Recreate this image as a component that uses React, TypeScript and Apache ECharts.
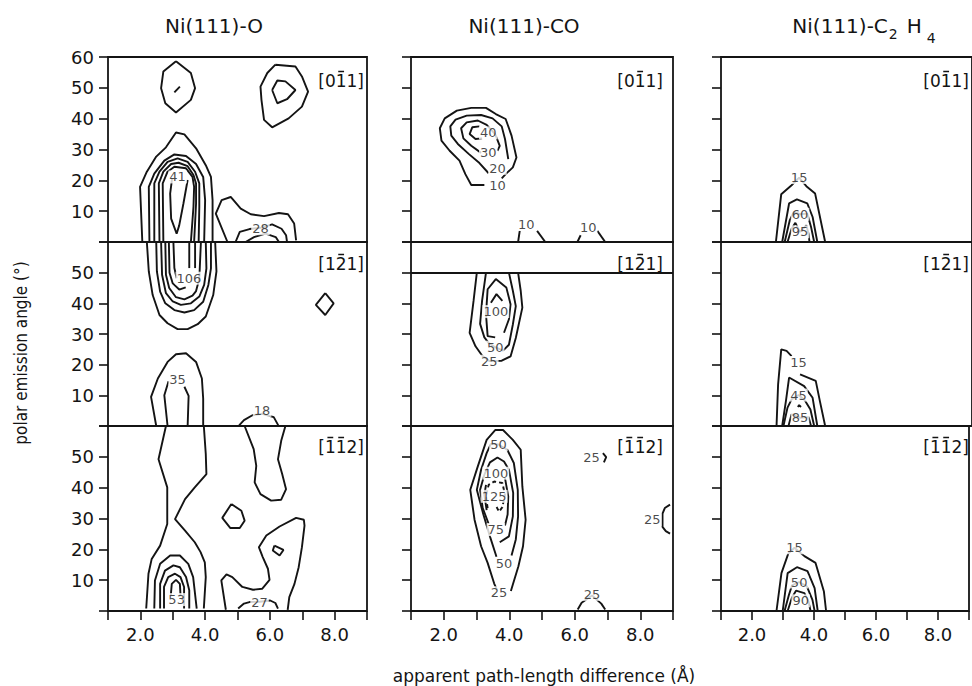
import React, { useEffect, useRef } from "react";
import * as echarts from "echarts";

type Pt = [number, number];
type Lbl = [number, number, string];

// ---- axis / text content ----
const xTickLabels = ["2.0", "4.0", "6.0", "8.0"];
const yTickValues = [10, 20, 30, 40, 50, 60];
const columnTitles = ["{a|Ni(111)-O}", "{a|Ni(111)-CO}", "{a|Ni(111)-C}{s|2}{a|H}{t|4}"];
const directionLabels = ["[011]", "[121]", "[112]"];
// which digit (0-based, among the three digits) carries an overbar
const directionBars = [[1], [1], [0, 1]];
const xAxisName = "apparent path-length difference (Å)";
const yAxisName = "polar emission angle (°)";

// ---- Ni(111)-O contours (x: Å, y: degrees) ----
const oA: Pt[][] = [
  [[3.10, 58.6], [3.56, 54.8], [3.69, 49.9], [3.56, 46.1], [3.10, 42.0], [2.77, 45.0], [2.64, 49.9], [2.71, 55.3], [3.10, 58.6]],
  [[3.05, 48.5], [3.22, 50.4]],
  [[6.17, 57.5], [6.79, 56.9], [6.99, 53.7], [7.18, 48.8], [6.99, 43.9], [6.58, 40.1], [6.07, 37.2], [5.82, 39.6], [5.74, 46.1], [5.71, 50.4], [5.92, 54.8], [6.17, 57.5]],
  [[6.07, 49.3], [6.23, 52.4], [6.48, 52.1], [6.79, 49.3], [6.53, 46.3], [6.23, 45.0], [6.07, 49.3]],
  [[2.06, 0], [1.99, 17.9], [2.20, 22.8], [2.49, 27.7], [2.79, 30.7], [3.10, 35.5], [3.36, 34.9], [3.72, 30.4], [4.02, 24.9], [4.18, 21.1], [4.23, 13.6], [4.23, 0]],
  [[2.28, 0], [2.26, 17.9], [2.43, 22.2], [2.74, 26.4], [3.05, 28.4], [3.41, 27.9], [3.72, 25.3], [3.94, 21.1], [4.00, 13.6], [3.97, 0]],
  [[2.43, 0], [2.43, 19.0], [2.59, 22.8], [2.84, 26.0], [3.15, 27.1], [3.46, 26.0], [3.69, 22.8], [3.82, 19.0], [3.82, 11.4], [3.80, 0]],
  [[2.59, 0], [2.57, 19.0], [2.71, 22.8], [2.95, 25.3], [3.18, 25.7], [3.46, 24.6], [3.64, 21.7], [3.72, 19.0], [3.72, 12.5], [3.66, 0]],
  [[2.71, 0], [2.69, 19.0], [2.84, 22.8], [3.05, 24.4], [3.41, 23.9], [3.61, 21.1], [3.66, 17.9], [3.64, 11.4], [3.56, 0]],
  [[2.98, 20.6], [2.92, 15.7], [2.95, 7.6], [3.12, 2.7], [3.20, 5.4], [3.33, 12.5], [3.46, 20.1]],
  [[4.69, 0], [4.33, 9.2], [4.51, 13.6], [4.79, 14.6], [5.10, 10.8], [5.41, 9.0], [5.82, 8.4], [6.28, 9.4], [6.56, 9.0], [6.75, 6.0], [6.81, 0.5]],
  [[4.94, 0], [5.07, 3.3], [5.37, 4.2], [5.71, 4.6], [6.07, 5.7], [6.36, 4.3], [6.50, 2.2], [6.53, 0]],
  [[5.25, 0], [5.51, 1.6], [5.87, 2.7], [6.18, 1.6], [6.28, 0]],
];
const oALabels: Lbl[] = [[3.15, 21.1, "41"], [5.71, 4.3, "28"]];

const oB: Pt[][] = [
  [[2.20, 60], [2.26, 50.4], [2.38, 42.7], [2.59, 36.2], [2.84, 33.5], [3.15, 31.6], [3.46, 31.6], [3.77, 33.2], [4.02, 35.7], [4.25, 42.7], [4.35, 50.4], [4.31, 60]],
  [[2.49, 60], [2.51, 50.4], [2.61, 43.8], [2.77, 40.0], [3.05, 37.8], [3.36, 37.0], [3.66, 37.8], [3.94, 40.5], [4.10, 46.0], [4.18, 51.4], [4.18, 60]],
  [[2.64, 60], [2.67, 49.3], [2.79, 43.3], [3.00, 40.6], [3.25, 39.5], [3.56, 40.0], [3.82, 42.2], [3.97, 46.0], [4.04, 51.4], [4.02, 60]],
  [[2.77, 60], [2.79, 49.3], [2.89, 45.0], [3.10, 42.0], [3.36, 41.3], [3.61, 42.5], [3.72, 44.0], [3.82, 48.0], [3.87, 60]],
  [[2.88, 60], [2.90, 50.0], [3.00, 46.5], [3.20, 44.5], [3.40, 45.2]],
  [[3.69, 60], [3.69, 51.5]],
  [[3.02, 60], [3.05, 51.5], [3.12, 48.2]],
  [[3.51, 60], [3.51, 51.5]],
  [[7.71, 43.3], [7.97, 40.0], [7.71, 36.2], [7.42, 39.5], [7.71, 43.3]],
  [[2.49, 0], [2.33, 9.5], [2.54, 15.5], [2.84, 20.9], [3.10, 23.4], [3.41, 23.7], [3.72, 20.9], [3.90, 15.5], [3.94, 8.9], [3.94, 0]],
  [[2.84, 0], [2.74, 10.0], [2.87, 14.6]],
  [[3.36, 12.8], [3.49, 9.8], [3.46, 0]],
  [[5.05, 0.2], [5.20, 1.9], [5.46, 3.5], [5.76, 4.0], [6.12, 2.9], [6.26, 0.2]],
];
const oBLabels: Lbl[] = [[3.50, 48.2, "106"], [3.15, 15.3, "35"], [5.76, 5.1, "18"]];

const oC: Pt[][] = [
  [[2.79, 60], [2.56, 49.2], [2.83, 40.1], [2.83, 28.2], [2.61, 21.2], [2.35, 16.9], [2.25, 12.1], [2.18, 0.8]],
  [[3.96, 60], [4.02, 50.9], [4.04, 44.4], [3.68, 40.1], [3.38, 36.3], [3.07, 29.8], [3.38, 26.1], [3.68, 22.3], [3.86, 19.1], [3.99, 15.8], [4.02, 11.0], [3.96, 0.8]],
  [[2.43, 0.8], [2.45, 9.9], [2.61, 15.3], [2.92, 18.0], [3.22, 18.0], [3.48, 15.3], [3.63, 11.0], [3.74, 0.8]],
  [[2.61, 0.8], [2.61, 8.8], [2.76, 13.1], [3.02, 14.8], [3.22, 14.2], [3.41, 11.0], [3.51, 6.7], [3.51, 0.8]],
  [[2.73, 0.8], [2.73, 7.8], [2.86, 11.0], [3.07, 12.1], [3.24, 11.0], [3.35, 7.8], [3.35, 0.8]],
  [[2.94, 5.1], [2.97, 8.8], [3.10, 10.1], [3.22, 8.8], [3.24, 5.1]],
  [[5.22, 60], [5.50, 52.5], [5.58, 47.1], [5.53, 41.7], [5.71, 37.9], [6.04, 35.8], [6.35, 36.1], [6.50, 39.5], [6.38, 44.4], [6.25, 49.2], [6.35, 55.2], [6.48, 60]],
  [[4.81, 34.7], [5.12, 32.5], [5.22, 29.3], [5.07, 26.9], [4.78, 26.9], [4.53, 30.2], [4.81, 34.7]],
  [[4.64, 0.4], [4.50, 9.9], [4.66, 11.9], [4.84, 11.0], [5.15, 7.8], [5.48, 6.9], [5.76, 7.2], [5.99, 10.1], [5.94, 13.7], [5.78, 17.5], [5.66, 20.7], [5.89, 24.5], [6.30, 27.4], [6.81, 30.2], [7.05, 29.6], [7.07, 27.7], [6.99, 20.7], [6.89, 14.2], [6.76, 8.8], [6.60, 4.5], [6.55, 0.4]],
  [[6.14, 21.2], [6.42, 19.8], [6.30, 18.0], [6.09, 19.6], [6.14, 21.2]],
  [[5.02, 0.8], [5.20, 2.4], [5.37, 2.9], [5.68, 3.0], [6.01, 3.4], [6.17, 2.6], [6.25, 0.8]],
];
const oCLabels: Lbl[] = [[3.12, 3.7, "53"], [5.68, 2.9, "27"]];

// ---- Ni(111)-CO contours ----
const coA: Pt[][] = [
  [[3.24, 18.5], [2.84, 18.5], [2.66, 22.0], [2.48, 26.4], [2.18, 29.6], [1.93, 32.9], [1.88, 36.9], [2.03, 40.1], [2.40, 42.6], [2.84, 43.5], [3.29, 43.5], [3.59, 41.5], [3.89, 39.9], [4.07, 34.5], [4.22, 27.4], [4.11, 24.2], [3.89, 22.0], [3.77, 20.6]],
  [[3.37, 22.3], [3.09, 25.6], [2.77, 28.5], [2.43, 31.8], [2.23, 34.5], [2.20, 37.5], [2.36, 39.7], [2.70, 41.0], [3.14, 41.2], [3.49, 40.1], [3.77, 37.5], [3.87, 33.4], [3.97, 26.9]],
  [[3.14, 28.9], [2.84, 31.2], [2.60, 33.6], [2.53, 36.9], [2.70, 38.8], [3.04, 39.4], [3.31, 38.0], [3.57, 35.0], [3.71, 31.2], [3.64, 29.6]],
  [[3.09, 37.5], [2.87, 37.2], [2.79, 35.0], [2.97, 33.4], [3.17, 33.6]],
  [[4.27, 0], [4.32, 3.6]],
  [[4.85, 3.6], [5.10, 0]],
  [[6.08, 0], [6.18, 2.2]],
  [[6.69, 3.6], [6.93, 0]],
];
const coALabels: Lbl[] = [[3.36, 35.4, "40"], [3.36, 29.1, "30"], [3.64, 23.9, "20"], [3.64, 18.2, "10"], [4.52, 5.7, "10"], [6.41, 4.7, "10"]];

const coB: Pt[][] = [
  [[3.01, 50], [2.91, 40.8], [2.79, 30.4], [2.97, 26.0], [3.17, 23.0], [3.39, 21.2], [3.77, 21.3], [4.04, 22.7], [4.20, 28.7], [4.40, 38.6], [4.35, 44.1], [4.27, 50]],
  [[3.29, 50], [3.17, 40.8], [3.11, 33.3], [3.24, 28.9], [3.37, 27.1], [3.57, 25.7], [3.81, 24.6], [3.99, 26.5], [4.11, 33.1], [4.20, 39.1], [4.11, 44.1], [3.99, 50]],
  [[3.57, 28.9], [3.34, 29.3], [3.29, 36.4], [3.34, 44.6], [3.59, 47.9], [3.91, 45.2], [4.04, 39.7], [3.99, 34.8], [3.84, 30.4]],
  [[3.44, 40.2], [3.61, 43.0], [3.79, 40.8]],
];
const coBLabels: Lbl[] = [[3.59, 37.3, "100"], [3.57, 25.7, "50"], [3.39, 21.1, "25"]];

const coC: Pt[][] = [
  [[3.62, 7.0], [3.54, 8.9], [3.34, 15.6], [3.14, 21.0], [2.94, 29.6], [2.81, 39.3], [3.04, 46.9], [3.31, 55.5], [3.57, 58.7], [3.81, 58.7], [4.11, 55.5], [4.35, 52.3], [4.40, 40.4], [4.50, 29.6], [4.42, 21.0], [4.28, 14.5], [4.11, 8.6], [4.05, 6.5]],
  [[3.61, 17.6], [3.41, 24.2], [3.21, 31.3], [3.01, 39.3], [3.14, 45.8], [3.31, 51.2], [3.44, 54.2], [3.67, 54.0], [3.94, 52.3], [4.14, 48.0], [4.26, 39.3], [4.27, 30.7], [4.20, 23.2], [4.07, 18.0]],
  [[3.71, 22.3], [3.99, 24.2], [4.11, 30.7], [4.12, 38.3], [3.99, 45.8], [3.84, 48.5], [3.64, 49.8], [3.41, 48.2], [3.24, 44.2], [3.11, 39.3], [3.19, 33.4], [3.37, 28.3]],
  [[3.31, 32.7], [3.24, 37.7], [3.29, 40.9]],
  [[3.87, 43.1], [3.97, 37.2], [3.95, 31.3], [3.87, 27.7]],
  [[3.34, 33.4], [3.29, 37.2], [3.37, 40.9], [3.54, 42.0], [3.79, 41.5], [3.87, 37.7], [3.79, 33.7], [3.69, 32.2], [3.59, 34.2]],
  [[6.86, 51.2], [6.96, 49.9], [6.89, 48.2]],
  [[8.91, 34.5], [8.75, 33.4], [8.68, 31.6], [8.68, 27.3], [8.78, 25.9], [8.91, 25.1]],
  [[6.09, 0.5], [6.21, 2.7], [6.53, 5.0], [6.81, 2.4], [6.93, 0.5]],
];
const coCLabels: Lbl[] = [[3.67, 53.9, "50"], [3.59, 44.7, "100"], [3.54, 37.2, "125"], [3.59, 26.4, "75"], [3.84, 15.4, "50"], [3.69, 5.9, "25"], [6.51, 49.9, "25"], [8.37, 29.6, "25"], [6.53, 5.4, "25"]];

// ---- Ni(111)-C2H4 contours ----
const chA: Pt[][] = [
  [[2.75, 0], [2.92, 15.5], [3.25, 18.4], [3.49, 20.9], [3.72, 18.1], [4.00, 15.7], [4.32, 0]],
  [[2.95, 0], [3.17, 12.5], [3.42, 13.8], [3.75, 12.5], [3.92, 8.1], [4.07, 0]],
  [[3.03, 0], [3.19, 7.0], [3.32, 9.8], [3.52, 9.0], [3.75, 9.2], [3.87, 4.9], [3.97, 0]],
  [[3.12, 0], [3.25, 4.3], [3.37, 6.2], [3.52, 3.3], [3.72, 5.4], [3.79, 2.7], [3.82, 0]],
];
const chALabels: Lbl[] = [[3.49, 20.9, "15"], [3.52, 9.0, "60"], [3.52, 3.3, "95"]];

const chB: Pt[][] = [
  [[2.77, 0], [2.82, 13.6], [2.92, 25.0], [3.09, 24.5], [3.25, 22.8]],
  [[3.52, 16.8], [4.02, 14.7], [4.15, 8.2], [4.32, 0]],
  [[2.95, 0], [3.07, 8.2], [3.17, 15.8], [3.65, 13.0], [3.92, 9.2], [4.07, 0]],
  [[2.99, 0], [3.12, 6.0], [3.25, 8.7], [3.47, 10.1], [3.67, 8.4], [3.85, 5.4], [3.97, 0]],
  [[3.15, 0], [3.25, 3.8], [3.52, 2.7], [3.79, 2.9], [3.87, 0]],
  [[3.45, 6.2], [3.49, 6.8], [3.55, 6.2]],
];
const chBLabels: Lbl[] = [[3.47, 20.7, "15"], [3.47, 10.1, "45"], [3.52, 2.7, "85"]];

const chC: Pt[][] = [
  [[2.79, 0], [2.95, 12.3], [3.17, 18.6], [3.37, 20.5], [3.69, 17.8], [4.05, 15.6], [4.32, 6.3], [4.39, 0]],
  [[2.99, 0], [3.15, 12.3], [3.45, 14.2], [3.79, 12.9], [4.02, 7.4], [4.12, 0]],
  [[3.05, 0], [3.19, 5.2], [3.29, 8.3], [3.52, 9.4], [3.77, 8.0], [3.95, 3.6], [4.02, 0]],
  [[3.15, 0], [3.29, 4.4], [3.42, 6.6], [3.69, 5.8], [3.82, 3.1], [3.89, 0]],
];
const chCLabels: Lbl[] = [[3.37, 20.5, "15"], [3.52, 9.4, "50"], [3.57, 3.3, "90"]];

// panels in row-major order: rows = directions, cols = adsorbates
const panelContours = [oA, coA, chA, oB, coB, chB, oC, coC, chC];
const panelLabels = [oALabels, coALabels, chALabels, oBLabels, coBLabels, chBLabels, oCLabels, coCLabels, chCLabels];

export default function App() {
  const ref = useRef<HTMLDivElement>(null);
  useEffect(() => {
    if (!ref.current) return;
    const chart = echarts.init(ref.current, null, { renderer: "svg" });
    const FONT = "DejaVu Sans";
    const INK = "#141414";
    const colLeft = [108, 411, 721];
    const colWidth = [259, 262, 265];
    const rowTop = [57, 242, 426];
    const rowHeight = [185, 184, 185];
    const titleX = [214, 524, 864];
    const dirRight = [364, 663, 969];
    const dirY = [81, 264, 447];
    const DIR_FS = 17;
    const bracketW = 0.39 * DIR_FS;
    const digitW = 0.636 * DIR_FS;
    const dirW = 2 * bracketW + 3 * digitW;

    const grids: any[] = [];
    const xAxes: any[] = [];
    const yAxes: any[] = [];
    const series: any[] = [];
    const graphics: any[] = [];

    panelContours.forEach((contours, i) => {
      const r = Math.floor(i / 3);
      const c = i % 3;
      grids.push({
        left: colLeft[c], top: rowTop[r], width: colWidth[c], height: rowHeight[r],
        show: true, borderColor: INK, borderWidth: 1.8, backgroundColor: "transparent",
      });
      xAxes.push({
        gridIndex: i, type: "value", min: 1, max: 9, interval: 1,
        axisLine: { show: false, onZero: false },
        splitLine: { show: false },
        axisTick: { show: r === 2, length: 9, lineStyle: { color: INK, width: 1.6 } },
        axisLabel: {
          show: r === 2, margin: 14, fontFamily: FONT, fontSize: 18, color: INK,
          formatter: (v: number) => (Math.round(v) % 2 === 0 ? xTickLabels[Math.round(v) / 2 - 1] ?? "" : ""),
        },
      });
      yAxes.push({
        gridIndex: i, type: "value", min: 0, max: 60, interval: 10,
        axisLine: { show: false, onZero: false },
        splitLine: { show: false },
        axisTick: { show: true, length: 9, lineStyle: { color: INK, width: 1.6 } },
        axisLabel: {
          show: c === 0, margin: 14, fontFamily: FONT, fontSize: 18, color: INK,
          formatter: (v: number) => (yTickValues.includes(v) && !(v === 60 && r > 0) ? String(v) : ""),
        },
      });
      contours.forEach((ct, k) => {
        const dashed = i === 7 && k === 5;
        series.push({
          type: "line", xAxisIndex: i, yAxisIndex: i, data: ct,
          showSymbol: false, symbol: "none", silent: true, z: 2,
          lineStyle: { color: INK, width: 1.9, type: dashed ? [4, 3] : "solid" },
        });
      });
      if (i === 4) {
        series.push({
          type: "line", xAxisIndex: i, yAxisIndex: i, data: [], silent: true,
          markLine: {
            silent: true, symbol: "none", label: { show: false },
            lineStyle: { color: INK, width: 1.8, type: "solid" },
            data: [{ yAxis: 50 }],
          },
        });
      }
      series.push({
        type: "scatter", xAxisIndex: i, yAxisIndex: i, z: 5, silent: true,
        symbolSize: 1, itemStyle: { color: "rgba(0,0,0,0)" },
        data: panelLabels[i].map((l) => ({ value: [l[0], l[1]], name: l[2] })),
        label: {
          show: true, position: "inside", formatter: "{b}",
          fontFamily: FONT, fontSize: 13, color: "#1a1a1a",
          backgroundColor: "#fff", padding: [0, 1], lineHeight: 13,
        },
      });
      // direction label with overbars
      const xl = dirRight[c] - dirW;
      graphics.push({
        type: "text", x: dirRight[c], y: dirY[r], z: 10,
        style: {
          text: directionLabels[r], fontFamily: FONT, fontSize: DIR_FS, fill: INK,
          align: "right", verticalAlign: "middle", textAlign: "right", textVerticalAlign: "middle",
        },
      });
      directionBars[r].forEach((d) => {
        const x0 = xl + bracketW + d * digitW;
        graphics.push({
          type: "line", z: 10,
          shape: { x1: x0 + 2.5, y1: dirY[r] - 9.5, x2: x0 + digitW - 2.5, y2: dirY[r] - 9.5 },
          style: { stroke: INK, lineWidth: 1.5 },
        });
      });
    });

    columnTitles.forEach((t, c) => {
      graphics.push({
        type: "text", x: titleX[c], y: 16,
        style: {
          text: t, fontFamily: FONT, fontSize: 20, fill: INK,
          align: "center", verticalAlign: "top", textAlign: "center", textVerticalAlign: "top",
          rich: {
            a: { fontFamily: FONT, fontSize: 20, lineHeight: 22, fill: INK, color: INK, verticalAlign: "top" },
            s: { fontFamily: FONT, fontSize: 14, lineHeight: 16, fill: INK, color: INK, verticalAlign: "top", padding: [11, 9, 0, 1] },
            t: { fontFamily: FONT, fontSize: 14, lineHeight: 16, fill: INK, color: INK, verticalAlign: "top", padding: [15, 0, 0, 5] },
          },
        },
      });
    });
    graphics.push({
      type: "text", x: 544, y: 676,
      style: {
        text: xAxisName, fontFamily: FONT, fontSize: 17, fill: INK,
        align: "center", verticalAlign: "middle", textAlign: "center", textVerticalAlign: "middle",
      },
    });
    graphics.push({
      type: "text", x: 21, y: 353, rotation: Math.PI / 2,
      style: {
        text: yAxisName, fontFamily: "'Liberation Sans Narrow', 'DejaVu Sans Condensed', 'Liberation Sans', sans-serif", fontSize: 17, fill: INK,
        align: "center", verticalAlign: "middle", textAlign: "center", textVerticalAlign: "middle",
      },
    });

    chart.setOption({
      animation: false,
      backgroundColor: "#fff",
      grid: grids,
      xAxis: xAxes,
      yAxis: yAxes,
      series,
      graphic: graphics,
    });
    return () => chart.dispose();
  }, []);
  return (
    <div
      ref={ref}
      style={{ position: "fixed", left: 0, top: 0, width: 972, height: 686, background: "#fff" }}
    />
  );
}
